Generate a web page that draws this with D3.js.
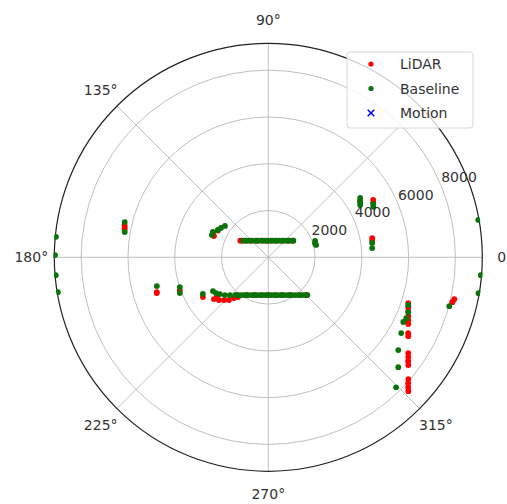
<!DOCTYPE html>
<html>
<head>
<meta charset="utf-8">
<script src="https://cdn.jsdelivr.net/npm/d3@7"></script>
<style>
  body { margin: 0; background: #fff; }
  text { font-family: "DejaVu Sans", sans-serif; }
</style>
</head>
<body>
<div id="chart"></div>
<script>
// scan data: angle in degrees, range in mm
var lidarTheta = [149.3, 147.8, 143.2, 136.5, 125.0, 110.0, 95.0, 80.0, 65.0, 50.0, 40.0, 34.0,
  156.3, 158.6, 152.0,
  167.3, 168.1, 169.0,
  230.0, 240.0, 250.0, 260.0, 270.0, 280.0, 290.0, 300.0, 310.0, 315.5,
  217.5, 220.9, 224.0, 227.4, 229.9, 232.7, 217.7,
  211.3, 200.5, 197.3, 197.8,
  28.7, 27.5, 31.5, 10.5, 9.2,
  341.9, 340.4, 339.0, 337.2, 335.8, 334.5, 331.5, 330.6, 325.6, 324.5, 323.4, 322.4, 319.0, 318.0, 317.1, 316.3,
  346.3, 347.3];
var lidarR = [1394, 1340, 1185, 1030, 865, 760, 715, 720, 785, 930, 1105, 1270,
  2587, 2498, 2440,
  6300, 6273, 6260,
  2110, 1860, 1715, 1640, 1612, 1640, 1715, 1860, 2110, 2300,
  2932, 2793, 2634, 2486, 2280, 2139, 2778,
  3273, 4040, 4994, 5010,
  5113, 5060, 4600, 4518, 4500,
  6296, 6352, 6410, 6490, 6558, 6629, 6805, 6869, 7252, 7350, 7448, 7555, 7935, 8048, 8165, 8283,
  8098, 8151];

var baseTheta = [146.4, 143.0, 138.9, 134.0, 128.1, 121.1, 112.9, 103.5, 93.4, 83.1, 73.2, 64.3, 56.5, 49.9, 44.3, 39.7, 35.8, 33.6,
  19.2, 16.5, 14.5,
  158.4, 155.4, 151.5, 148.2, 144.1,
  166.2, 170.0,
  228.8, 231.5, 234.4, 237.5, 240.9, 244.5, 248.3, 252.3, 256.6, 261.0, 265.5, 270.0, 274.5, 279.0, 283.4, 287.7, 291.7, 295.5, 299.1, 302.5, 305.6, 308.5, 311.2, 313.7, 316.0,
  211.4, 214.3, 217.2, 221.0, 224.5,
  209.3, 198.6, 202.0, 194.5,
  32.9, 31.1, 29.7, 27.0, 25.7,
  7.9, 5.1,
  341.2, 338.6, 336.2, 334.4, 330.3, 324.5, 319.8, 314.5,
  344.9,
  174.5, 179.4, 184.8, 189.4, 10.1, 355.2, 350.3];
var baseR = [1285, 1180, 1081, 988, 903, 830, 772, 731, 712, 716, 743, 789, 853, 930, 1018, 1113, 1215, 1285,
  2119, 2085, 2110,
  2594, 2605, 2451, 2383, 2288,
  6321, 6233,
  2146, 2064, 1986, 1914, 1848, 1789, 1738, 1694, 1660, 1635, 1620, 1615, 1620, 1635, 1660, 1694, 1738, 1789, 1848, 1914, 1986, 2064, 2146, 2233, 2323,
  2774, 2712, 2598, 2459, 2302,
  3208, 3990, 4079, 4922,
  4677, 4587, 4523, 5032, 4980,
  4484, 4459,
  6322, 6426, 6445, 6401, 6543, 6828, 7276, 7796,
  8015,
  9120, 9120, 9120, 9120, 9120, 9120, 9120];

var motionTheta = [];
var motionR = [];

var angleTicks = [0, 45, 90, 135, 180, 225, 270, 315];
var angleLabels = ['0°', '', '90°', '135°', '180°', '225°', '270°', '315°'];
var rangeTicks = [2000, 4000, 6000, 8000];
var rMax = 9150;

var seriesNames = ['LiDAR', 'Baseline', 'Motion'];

var width = 507, height = 504;
var cx = 268.3, cy = 257.3, outer = 214;

var r = d3.scaleLinear().domain([0, rMax]).range([0, outer]);

function px(deg, rr) { return cx + rr * Math.cos(deg * Math.PI / 180); }
function py(deg, rr) { return cy - rr * Math.sin(deg * Math.PI / 180); }

var svg = d3.select('#chart').append('svg')
  .attr('width', width)
  .attr('height', height);

svg.append('rect').attr('width', width).attr('height', height).attr('fill', '#fff');

svg.append('clipPath').attr('id', 'clip')
  .append('circle').attr('cx', cx).attr('cy', cy).attr('r', outer + 1);

// grid
var grid = svg.append('g');
grid.selectAll('circle')
  .data(rangeTicks)
  .enter().append('circle')
  .attr('cx', cx).attr('cy', cy)
  .attr('r', function(d) { return r(d); })
  .attr('fill', 'none')
  .attr('stroke', '#b0b0b0')
  .attr('stroke-width', 0.8);

grid.selectAll('line')
  .data(angleTicks)
  .enter().append('line')
  .attr('x1', cx).attr('y1', cy)
  .attr('x2', function(d) { return px(d, outer); })
  .attr('y2', function(d) { return py(d, outer); })
  .attr('stroke', '#b0b0b0')
  .attr('stroke-width', 0.8);

// outer spine
svg.append('circle')
  .attr('cx', cx).attr('cy', cy).attr('r', outer)
  .attr('fill', 'none')
  .attr('stroke', '#222')
  .attr('stroke-width', 1.2);

// data
var pts = svg.append('g').attr('clip-path', 'url(#clip)');

pts.selectAll('.lidar')
  .data(d3.range(lidarTheta.length))
  .enter().append('circle')
  .attr('class', 'lidar')
  .attr('cx', function(i) { return px(lidarTheta[i], r(lidarR[i])); })
  .attr('cy', function(i) { return py(lidarTheta[i], r(lidarR[i])); })
  .attr('r', 2.9)
  .attr('fill', '#ff0000');

pts.selectAll('.base')
  .data(d3.range(baseTheta.length))
  .enter().append('circle')
  .attr('class', 'base')
  .attr('cx', function(i) { return px(baseTheta[i], r(baseR[i])); })
  .attr('cy', function(i) { return py(baseTheta[i], r(baseR[i])); })
  .attr('r', 2.9)
  .attr('fill', '#0a730a');

var xsym = d3.symbol().type(d3.symbolX).size(30);
pts.selectAll('.motion')
  .data(d3.range(motionTheta.length))
  .enter().append('path')
  .attr('class', 'motion')
  .attr('d', xsym)
  .attr('transform', function(i) {
    return 'translate(' + px(motionTheta[i], r(motionR[i])) + ',' + py(motionTheta[i], r(motionR[i])) + ')';
  })
  .attr('stroke', '#0000ff')
  .attr('stroke-width', 1.5);

// angle labels
svg.selectAll('.alabel')
  .data(angleTicks)
  .enter().append('text')
  .attr('class', 'alabel')
  .attr('x', function(d) { return px(d, 237); })
  .attr('y', function(d) { return py(d, 237); })
  .attr('text-anchor', 'middle')
  .attr('dominant-baseline', 'central')
  .attr('font-size', 14)
  .attr('fill', '#333')
  .text(function(d, i) { return angleLabels[i]; });

// range labels at 22.5 deg
svg.selectAll('.rlabel')
  .data(rangeTicks)
  .enter().append('text')
  .attr('class', 'rlabel')
  .attr('x', function(d) { return px(22.5, r(d)); })
  .attr('y', function(d) { return py(22.5, r(d)) - 4; })
  .attr('font-size', 14)
  .attr('fill', '#333')
  .text(function(d) { return d; });

// legend
var legend = svg.append('g');
legend.append('rect')
  .attr('x', 347).attr('y', 52)
  .attr('width', 126).attr('height', 76)
  .attr('rx', 3)
  .attr('fill', '#fff')
  .attr('fill-opacity', 0.8)
  .attr('stroke', '#d8d8d8');

var items = legend.selectAll('.item')
  .data(seriesNames)
  .enter().append('g')
  .attr('class', 'item')
  .attr('transform', function(d, i) { return 'translate(371,' + (64 + i * 24.5) + ')'; });

items.each(function(d, i) {
  var g = d3.select(this);
  if (i === 0) g.append('circle').attr('r', 2.6).attr('fill', '#ff0000');
  if (i === 1) g.append('circle').attr('r', 2.6).attr('fill', '#0a730a');
  if (i === 2) g.append('path').attr('d', xsym).attr('stroke', '#0000ff').attr('stroke-width', 1.5);
});

items.append('text')
  .attr('x', 29)
  .attr('dominant-baseline', 'central')
  .attr('font-size', 14)
  .attr('fill', '#333')
  .text(function(d) { return d; });
</script>
</body>
</html>
